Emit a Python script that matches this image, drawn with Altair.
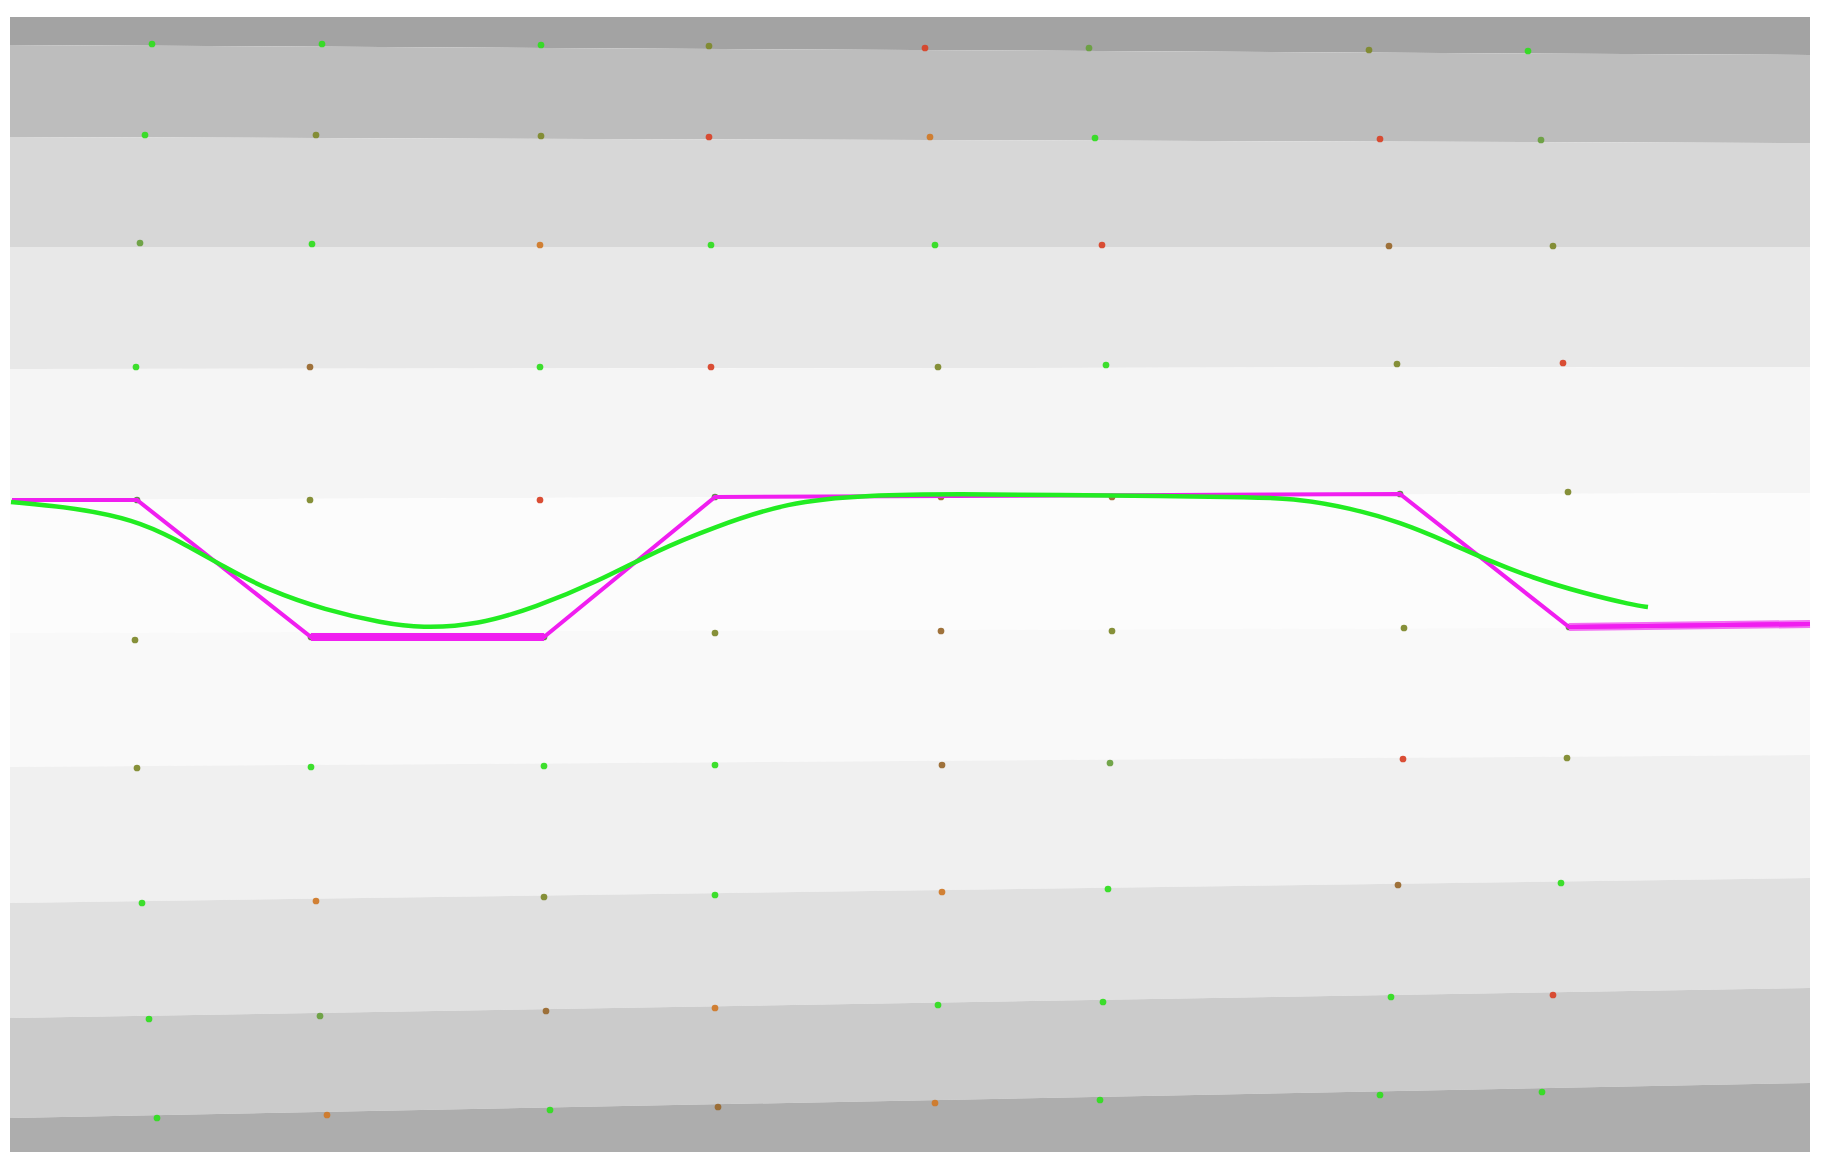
import altair as alt
import pandas as pd

# ---- data (page-pixel coordinates) ----
X_LEFT, X_RIGHT = 10, 1810
bound_left = [17, 45, 137, 247, 369, 500, 633, 767, 903, 1018, 1118, 1152]
bound_right = [17, 55, 143, 247, 367, 493, 627, 755, 878, 988, 1083, 1152]
band_colors = ["#a3a3a3", "#bdbdbd", "#d7d7d7", "#e8e8e8", "#f5f5f5", "#fcfcfc",
               "#f9f9f9", "#f0f0f0", "#e0e0e0", "#cbcbcb", "#adadad"]

G, O, B, R, A, V, L = "#33dd22", "#7f8a2e", "#9a6a30", "#d8452a", "#d07a2a", "#5f7f48", "#6aa040"
dot_rows_x = [
    [152, 322, 541, 709, 925, 1089, 1369, 1528],
    [145, 316, 541, 709, 930, 1095, 1380, 1541],
    [140, 312, 540, 711, 935, 1102, 1389, 1553],
    [136, 310, 540, 711, 938, 1106, 1397, 1563],
    [137, 310, 540, 715, 941, 1112, 1400, 1568],
    [135, 311, 544, 715, 941, 1112, 1404, 1569],
    [137, 311, 544, 715, 942, 1110, 1403, 1567],
    [142, 316, 544, 715, 942, 1108, 1398, 1561],
    [149, 320, 546, 715, 938, 1103, 1391, 1553],
    [157, 327, 550, 718, 935, 1100, 1380, 1542],
]
dot_rows_y = [
    [44, 44, 45, 46, 48, 48, 50, 51],
    [135, 135, 136, 137, 137, 138, 139, 140],
    [243, 244, 245, 245, 245, 245, 246, 246],
    [367, 367, 367, 367, 367, 365, 364, 363],
    [500, 500, 500, 497, 497, 497, 494, 492],
    [640, 637, 637, 633, 631, 631, 628, 627],
    [768, 767, 766, 765, 765, 763, 759, 758],
    [903, 901, 897, 895, 892, 889, 885, 883],
    [1019, 1016, 1011, 1008, 1005, 1002, 997, 995],
    [1118, 1115, 1110, 1107, 1103, 1100, 1095, 1092],
]
dot_rows_c = [
    [G, G, G, O, R, L, O, G],
    [G, O, O, R, A, G, R, L],
    [L, G, A, G, G, R, B, O],
    [G, B, G, R, O, G, O, R],
    [V, O, R, V, B, B, V, O],
    [O, V, V, O, B, O, O, V],
    [O, G, G, G, B, L, R, O],
    [G, A, O, G, A, G, B, G],
    [G, L, B, A, G, G, G, R],
    [G, A, G, B, A, G, G, G],
]

magenta_x = [12, 137, 311, 544, 715, 1400, 1569, 1810]
magenta_y = [500, 500, 637, 637, 497, 494, 627, 624]

thick_x1 = [311, 1569]
thick_x2 = [544, 1810]
thick_y1 = [637, 627]
thick_y2 = [637, 624]
thick_outer_color = ["#f020f0", "#f370f3"]

green_x = [11, 77, 134, 172, 226, 268, 325, 383, 421, 478, 536, 597, 658, 712, 787,
           868, 960, 1060, 1160, 1250, 1300, 1350, 1400, 1450, 1487, 1533, 1583, 1633, 1648]
green_y = [502, 508, 520, 537, 568, 590, 610, 623, 628, 625, 607, 582, 550, 528, 502,
           495, 494, 495, 496, 497, 499, 508, 522, 543, 560, 578, 593, 605, 607]

# ---- tables ----
bands = []
for i, c in enumerate(band_colors):
    bands.append({"band": i, "x": X_LEFT, "top": bound_left[i], "bot": bound_left[i + 1], "c": c})
    bands.append({"band": i, "x": X_RIGHT, "top": bound_right[i], "bot": bound_right[i + 1], "c": c})
bands_df = pd.DataFrame(bands)

dots = []
for xs_, ys_, cs_ in zip(dot_rows_x, dot_rows_y, dot_rows_c):
    for x, y, c in zip(xs_, ys_, cs_):
        dots.append({"x": x, "y": y, "c": c})
dots_df = pd.DataFrame(dots)

mag_df = pd.DataFrame({"x": magenta_x, "y": magenta_y, "i": range(len(magenta_x))})
thick_df = pd.DataFrame({"x": thick_x1, "x2": thick_x2, "y": thick_y1, "y2": thick_y2,
                         "c": thick_outer_color})
green_df = pd.DataFrame({"x": green_x, "y": green_y, "i": range(len(green_x))})

W, H = 1806, 1154
xs = alt.Scale(domain=[8, 8 + W], nice=False, zero=False)
ys = alt.Scale(domain=[8, 8 + H], nice=False, zero=False, reverse=True)


def X(f):
    return alt.X(f, scale=xs, axis=None)


def Y(f):
    return alt.Y(f, scale=ys, axis=None)


band_layer = alt.Chart(bands_df).mark_area(strokeWidth=0).encode(
    x=X("x:Q"), y=Y("top:Q"), y2="bot:Q",
    color=alt.Color("c:N", scale=None), detail="band:N",
)

dot_layer = alt.Chart(dots_df).mark_point(filled=True, shape="circle", size=45, opacity=0.95).encode(
    x=X("x:Q"), y=Y("y:Q"), color=alt.Color("c:N", scale=None)
)

thick_outer = alt.Chart(thick_df).mark_rule(strokeWidth=8).encode(
    x=X("x:Q"), x2="x2:Q", y=Y("y:Q"), y2="y2:Q", color=alt.Color("c:N", scale=None)
)
thick_inner = alt.Chart(thick_df).mark_rule(color="#ee11ee", strokeWidth=4).encode(
    x=X("x:Q"), x2="x2:Q", y=Y("y:Q"), y2="y2:Q"
)

mag_layer = alt.Chart(mag_df).mark_line(color="#f01ef0", strokeWidth=4).encode(
    x=X("x:Q"), y=Y("y:Q"), order="i:Q"
)

green_layer = alt.Chart(green_df).mark_line(color="#22ec22", strokeWidth=4.5, interpolate="basis").encode(
    x=X("x:Q"), y=Y("y:Q"), order="i:Q"
)

chart = alt.layer(
    band_layer, dot_layer, thick_outer, thick_inner, mag_layer, green_layer
).properties(
    width=W, height=H, padding=0, background="white",
    autosize=alt.AutoSizeParams(type="none"),
).configure_view(stroke=None)

chart.save("out.html", embed_options={"renderer": "svg", "actions": False})
